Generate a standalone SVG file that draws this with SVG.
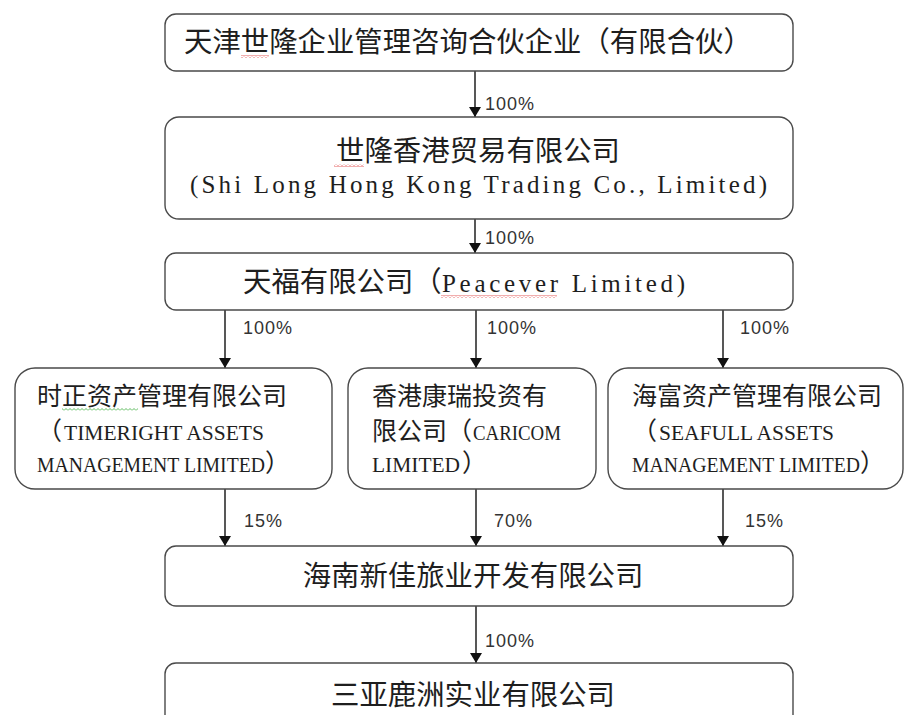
<svg xmlns="http://www.w3.org/2000/svg" width="905" height="715" viewBox="0 0 905 715">
<defs>
<style>
.box{fill:#fff;stroke:#4a4a4a;stroke-width:1.4}
.cjk{font-family:"Noto Sans CJK SC","Noto Sans CJK TC",sans-serif;fill:#1e1e1e}
.big{font-size:28.4px}
.mid{font-size:25px}
.ser{font-family:"Liberation Serif","Times New Roman",serif;fill:#1e1e1e}
.s24{font-size:25px}
.s21{font-size:20px}
.lbl{font-family:"Liberation Sans",Arial,sans-serif;font-size:18px;fill:#333;letter-spacing:1px}
.conn line{stroke:#111;stroke-width:1.4}
</style>
<marker id="ah" viewBox="0 0 10 12" refX="10" refY="6" markerWidth="10" markerHeight="12" markerUnits="userSpaceOnUse" orient="auto">
<path d="M0,0 L10,6 L0,12 Z" fill="#111"/>
</marker>
<pattern id="wavR" width="4" height="3" patternUnits="userSpaceOnUse">
<path d="M0,2.5 L2,0.5 L4,2.5" fill="none" stroke="#d33" stroke-width="0.8"/>
</pattern>
<pattern id="wavG" width="4" height="3" patternUnits="userSpaceOnUse">
<path d="M0,2.5 L2,0.5 L4,2.5" fill="none" stroke="#3a3" stroke-width="0.8"/>
</pattern>
</defs>
<rect width="905" height="715" fill="#fff"/>

<g id="conn" class="conn">
<line x1="475" y1="71" x2="475" y2="117" marker-end="url(#ah)"/>
<line x1="475" y1="219" x2="475" y2="253" marker-end="url(#ah)"/>
<line x1="225" y1="310" x2="225" y2="368" marker-end="url(#ah)"/>
<line x1="476" y1="310" x2="476" y2="368" marker-end="url(#ah)"/>
<line x1="723" y1="310" x2="723" y2="368" marker-end="url(#ah)"/>
<line x1="225" y1="489" x2="225" y2="546" marker-end="url(#ah)"/>
<line x1="476" y1="489" x2="476" y2="546" marker-end="url(#ah)"/>
<line x1="723" y1="489" x2="723" y2="546" marker-end="url(#ah)"/>
<line x1="476" y1="606" x2="476" y2="663" marker-end="url(#ah)"/>
<text class="lbl" x="485" y="110">100%</text>
<text class="lbl" x="485" y="244">100%</text>
<text class="lbl" x="243" y="334">100%</text>
<text class="lbl" x="487" y="334">100%</text>
<text class="lbl" x="740" y="334">100%</text>
<text class="lbl" x="244" y="527">15%</text>
<text class="lbl" x="494" y="527">70%</text>
<text class="lbl" x="745" y="527">15%</text>
<text class="lbl" x="485" y="647">100%</text>
</g>

<g id="n1">
<rect class="box" x="165" y="14" width="628" height="57" rx="11"/>
<text class="cjk big" x="184" y="52">天津世隆企业管理咨询合伙企业（有限合伙）</text>
<rect x="241" y="55" width="28" height="3" fill="url(#wavR)"/>
</g>

<g id="n2">
<rect class="box" x="165" y="117" width="628" height="102" rx="14"/>
<text class="cjk big" x="478" y="161" text-anchor="middle">世隆香港贸易有限公司</text>
<rect x="334" y="164" width="30" height="3" fill="url(#wavR)"/>
<text class="ser s24" x="190" y="193" textLength="577" lengthAdjust="spacing">(Shi Long Hong Kong Trading Co., Limited)</text>
</g>

<g id="n3">
<rect class="box" x="165" y="253" width="628" height="57" rx="11"/>
<text class="cjk big" x="243" y="292">天福有限公司（</text>
<text class="ser s24" x="442" y="292" textLength="243" lengthAdjust="spacing">Peacever Limited)</text>
<rect x="441" y="295" width="116" height="3" fill="url(#wavR)"/>
</g>

<g id="n4a">
<rect class="box" x="15" y="368" width="317" height="121" rx="20"/>
<text class="cjk mid" x="37" y="405">时正资产管理有限公司</text>
<rect x="62" y="408" width="76" height="3" fill="url(#wavG)"/>
<text class="cjk mid" x="37" y="440">（</text>
<text class="ser s21" x="64" y="440" textLength="200" lengthAdjust="spacingAndGlyphs">TIMERIGHT ASSETS</text>
<text class="ser s21" x="37" y="472" textLength="228" lengthAdjust="spacingAndGlyphs">MANAGEMENT LIMITED</text>
<text class="cjk mid" x="265" y="472">）</text>
</g>

<g id="n4b">
<rect class="box" x="348" y="368" width="248" height="121" rx="20"/>
<text class="cjk mid" x="372" y="405">香港康瑞投资有</text>
<text class="cjk mid" x="372" y="440">限公司（</text>
<text class="ser s21" x="473" y="440" textLength="88" lengthAdjust="spacingAndGlyphs">CARICOM</text>
<text class="ser s21" x="372" y="472" textLength="88" lengthAdjust="spacingAndGlyphs">LIMITED</text>
<text class="cjk mid" x="462" y="472">）</text>
</g>

<g id="n4c">
<rect class="box" x="608" y="368" width="295" height="121" rx="20"/>
<text class="cjk mid" x="632" y="405">海富资产管理有限公司</text>
<text class="cjk mid" x="632" y="440">（</text>
<text class="ser s21" x="659" y="440" textLength="175" lengthAdjust="spacingAndGlyphs">SEAFULL ASSETS</text>
<text class="ser s21" x="632" y="472" textLength="228" lengthAdjust="spacingAndGlyphs">MANAGEMENT LIMITED</text>
<text class="cjk mid" x="860" y="472">）</text>
</g>

<g id="n5">
<rect class="box" x="165" y="546" width="628" height="60" rx="11"/>
<text class="cjk big" x="473" y="586" text-anchor="middle">海南新佳旅业开发有限公司</text>
</g>

<g id="n6">
<rect class="box" x="165" y="663" width="628" height="70" rx="11"/>
<text class="cjk big" x="473" y="705" text-anchor="middle">三亚鹿洲实业有限公司</text>
</g>
</svg>
